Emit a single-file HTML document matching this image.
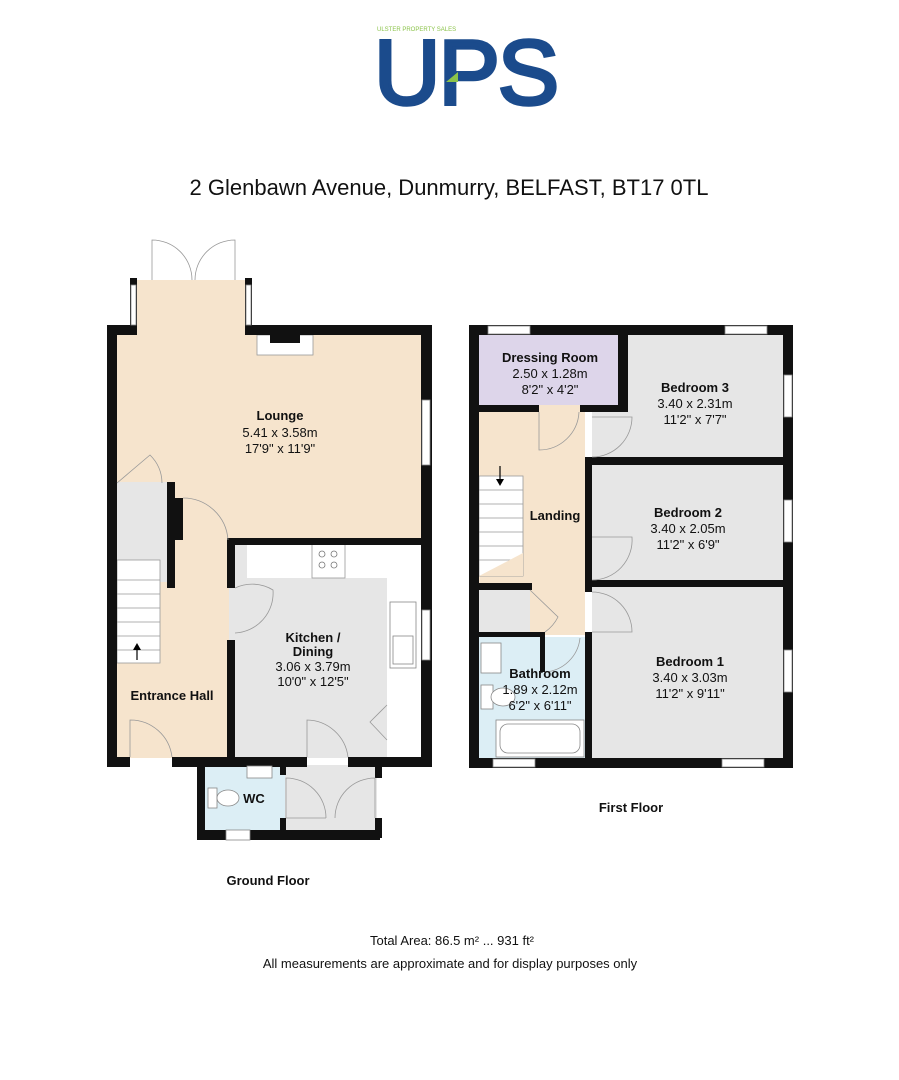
<!DOCTYPE html>
<html><head><meta charset="utf-8"><style>
html,body{margin:0;padding:0;background:#fff;}
svg{display:block;font-family:"Liberation Sans",Arial,sans-serif;}
.b{font-weight:bold;font-size:13px;}
.t{font-size:13px;}
</style></head><body>
<svg width="899" height="1080" viewBox="0 0 899 1080" xmlns="http://www.w3.org/2000/svg">
<!-- Logo -->
<text x="377" y="31" font-size="6" fill="#8bc34a">ULSTER PROPERTY SALES</text>
<text x="374" y="104" font-size="92" fill="#1b4b8c" stroke="#1b4b8c" stroke-width="3.5" letter-spacing="-2">UPS</text>
<polygon points="446,82 458,72 458,82" fill="#8bc34a"/>
<text x="449" y="195" font-size="22" text-anchor="middle" fill="#111">2 Glenbawn Avenue, Dunmurry, BELFAST, BT17 0TL</text>

<!-- GROUND FLOOR fills -->
<rect x="117" y="335" width="304" height="205" fill="#f6e4cd"/>
<rect x="137" y="280" width="108" height="60" fill="#f6e4cd"/>
<rect x="117" y="540" width="112" height="218" fill="#f6e4cd"/>
<rect x="116" y="482" width="51" height="100" fill="#e6e6e6"/>
<rect x="229" y="544" width="192" height="214" fill="#e6e6e6"/>
<rect x="247" y="544" width="174" height="34" fill="#fff"/>
<rect x="387" y="578" width="34" height="180" fill="#fff"/>
<rect x="205" y="765" width="80" height="65" fill="#dceef5"/>
<rect x="285" y="765" width="92" height="65" fill="#e6e6e6"/>
<!-- hob -->
<rect x="312" y="544" width="33" height="34" fill="#fff" stroke="#999" stroke-width="0.8"/>
<g fill="none" stroke="#777" stroke-width="0.8"><circle cx="322" cy="554" r="3"/><circle cx="334" cy="554" r="3"/><circle cx="322" cy="565" r="3"/><circle cx="334" cy="565" r="3"/></g>
<!-- sink -->
<rect x="390" y="602" width="26" height="66" fill="#fff" stroke="#888" stroke-width="0.8"/>
<rect x="393" y="636" width="20" height="28" fill="none" stroke="#888" stroke-width="0.8"/>
<!-- stairs -->
<g stroke="#999" stroke-width="0.8" fill="#fff">
<rect x="117" y="560" width="43" height="103"/>
<line x1="117" y1="580" x2="160" y2="580"/><line x1="117" y1="594" x2="160" y2="594"/><line x1="117" y1="608" x2="160" y2="608"/><line x1="117" y1="622" x2="160" y2="622"/><line x1="117" y1="636" x2="160" y2="636"/><line x1="117" y1="650" x2="160" y2="650"/>
</g>
<line x1="137" y1="660" x2="137" y2="648" stroke="#000" stroke-width="1.2"/><polygon points="133,650 141,650 137,643" fill="#000"/>
<!-- fireplace -->
<rect x="257" y="335" width="56" height="20" fill="#fff" stroke="#999" stroke-width="0.8"/>
<rect x="270" y="335" width="30" height="8" fill="#111"/>
<!-- walls ground -->
<g fill="#111">
<rect x="107" y="325" width="10" height="442"/>
<rect x="107" y="325" width="30" height="10"/>
<rect x="245" y="325" width="187" height="10"/>
<rect x="421" y="325" width="11" height="442"/>
<rect x="130" y="278" width="7" height="50"/>
<rect x="245" y="278" width="7" height="50"/>
<rect x="227" y="538" width="204" height="7"/>
<rect x="227" y="538" width="8" height="50"/>
<rect x="227" y="640" width="8" height="118"/>
<rect x="167" y="482" width="8" height="106"/>
<rect x="173" y="498" width="10" height="42"/>
<rect x="107" y="757" width="23" height="10"/>
<rect x="172" y="757" width="135" height="10"/>
<rect x="348" y="757" width="84" height="10"/>
<rect x="197" y="765" width="8" height="75"/>
<rect x="197" y="830" width="183" height="10"/>
<rect x="375" y="765" width="7" height="13"/>
<rect x="375" y="818" width="7" height="20"/>
<rect x="280" y="765" width="6" height="10"/>
<rect x="280" y="818" width="6" height="14"/>
</g>
<!-- windows ground -->
<g fill="#fff" stroke="#888" stroke-width="0.8">
<rect x="422" y="400" width="8" height="65"/>
<rect x="422" y="610" width="8" height="50"/>
<rect x="226" y="830" width="24" height="10"/>
<rect x="131" y="285" width="5" height="40"/>
<rect x="246" y="285" width="5" height="40"/>
</g>
<!-- doors ground -->
<g fill="none" stroke="#999" stroke-width="0.8">
<path d="M152 280 L152 240 A40 40 0 0 1 192 280"/>
<path d="M235 280 L235 240 A40 40 0 0 0 195 280"/>
<path d="M183 498 A45 45 0 0 1 228 540"/>
<path d="M117 483 L150 455 A40 40 0 0 1 162 483"/>
<path d="M235 588 A40 40 0 0 1 273 590 A40 40 0 0 1 235 633"/>
<path d="M130 757 L130 720 A42 42 0 0 1 172 757"/>
<path d="M307 757 L307 720 A42 42 0 0 1 348 757"/>
<path d="M286 818 L286 778 A40 40 0 0 1 326 818"/>
<path d="M335 818 A40 40 0 0 1 375 778 L375 818"/>
<path d="M387 705 L370 722 L387 740"/>
</g>
<line x1="286" y1="818" x2="326" y2="818" stroke="#999" stroke-width="0.8"/>
<!-- wc -->
<rect x="247" y="766" width="25" height="12" fill="#fff" stroke="#888" stroke-width="0.8"/>
<rect x="208" y="788" width="9" height="20" fill="#fff" stroke="#888" stroke-width="0.8"/>
<ellipse cx="228" cy="798" rx="11" ry="8" fill="#fff" stroke="#888" stroke-width="0.8"/>

<!-- FIRST FLOOR fills -->
<rect x="592" y="335" width="191" height="423" fill="#e6e6e6"/>
<rect x="479" y="335" width="139" height="70" fill="#ddd5ea"/>
<rect x="479" y="405" width="106" height="230" fill="#f6e4cd"/>
<rect x="479" y="590" width="51" height="42" fill="#e6e6e6"/>
<rect x="479" y="637" width="106" height="121" fill="#dceef5"/>
<g stroke="#999" stroke-width="0.8" fill="#fff">
<rect x="479" y="476" width="44" height="100"/>
<line x1="479" y1="490" x2="523" y2="490"/><line x1="479" y1="504" x2="523" y2="504"/><line x1="479" y1="518" x2="523" y2="518"/><line x1="479" y1="532" x2="523" y2="532"/><line x1="479" y1="546" x2="523" y2="546"/><line x1="479" y1="560" x2="523" y2="560"/>
</g>
<polygon points="479,576 523,553 523,576" fill="#f6e4cd"/>
<line x1="500" y1="466" x2="500" y2="482" stroke="#000" stroke-width="1.2"/><polygon points="496,479 504,479 500,486" fill="#000"/>
<!-- bathroom fixtures -->
<rect x="481" y="643" width="20" height="30" fill="#fff" stroke="#888" stroke-width="0.8"/>
<rect x="481" y="685" width="12" height="24" fill="#fff" stroke="#888" stroke-width="0.8"/>
<ellipse cx="503" cy="697" rx="12" ry="9" fill="#fff" stroke="#888" stroke-width="0.8"/>
<rect x="496" y="720" width="88" height="37" fill="#fff" stroke="#888" stroke-width="0.8"/>
<rect x="500" y="724" width="80" height="29" rx="8" fill="#fff" stroke="#888" stroke-width="0.8"/>
<!-- walls first -->
<g fill="#111">
<rect x="469" y="325" width="10" height="443"/>
<rect x="469" y="325" width="324" height="10"/>
<rect x="783" y="325" width="10" height="443"/>
<rect x="469" y="758" width="324" height="10"/>
<rect x="618" y="335" width="10" height="77"/>
<rect x="479" y="405" width="60" height="7"/>
<rect x="580" y="405" width="48" height="7"/>
<rect x="585" y="457" width="198" height="8"/>
<rect x="585" y="580" width="198" height="7"/>
<rect x="585" y="457" width="7" height="125"/>
<rect x="585" y="580" width="7" height="12"/>
<rect x="585" y="632" width="7" height="126"/>
<rect x="469" y="583" width="63" height="7"/>
<rect x="479" y="632" width="62" height="5"/>
<rect x="540" y="632" width="5" height="40"/>
</g>
<g fill="#fff" stroke="#888" stroke-width="0.8">
<rect x="488" y="326" width="42" height="8"/>
<rect x="725" y="326" width="42" height="8"/>
<rect x="784" y="375" width="8" height="42"/>
<rect x="784" y="500" width="8" height="42"/>
<rect x="784" y="650" width="8" height="42"/>
<rect x="493" y="759" width="42" height="8"/>
<rect x="722" y="759" width="42" height="8"/>
</g>
<g fill="none" stroke="#999" stroke-width="0.8">
<path d="M539 412 L539 450 A40 40 0 0 0 579 412"/>
<path d="M592 417 L632 417 A40 40 0 0 1 592 457"/>
<path d="M592 537 L632 537 A40 40 0 0 1 592 580"/>
<path d="M592 592 A40 40 0 0 1 632 632 L592 632"/>
<path d="M530 590 L558 617 A40 40 0 0 1 545 632"/>
<path d="M580 638 A38 38 0 0 1 545 672"/>
</g>

<!-- labels -->
<g text-anchor="middle" fill="#111">
<text class="b" x="280" y="420">Lounge</text>
<text class="t" x="280" y="437">5.41 x 3.58m</text>
<text class="t" x="280" y="453">17'9" x 11'9"</text>
<text class="b" x="313" y="642">Kitchen /</text>
<text class="b" x="313" y="656">Dining</text>
<text class="t" x="313" y="671">3.06 x 3.79m</text>
<text class="t" x="313" y="686">10'0" x 12'5"</text>
<text class="b" x="172" y="700">Entrance Hall</text>
<text class="b" x="254" y="803">WC</text>
<text class="b" x="268" y="885">Ground Floor</text>
<text class="b" x="550" y="362">Dressing Room</text>
<text class="t" x="550" y="378">2.50 x 1.28m</text>
<text class="t" x="550" y="394">8'2" x 4'2"</text>
<text class="b" x="695" y="392">Bedroom 3</text>
<text class="t" x="695" y="408">3.40 x 2.31m</text>
<text class="t" x="695" y="424">11'2" x 7'7"</text>
<text class="b" x="555" y="520">Landing</text>
<text class="b" x="688" y="517">Bedroom 2</text>
<text class="t" x="688" y="533">3.40 x 2.05m</text>
<text class="t" x="688" y="549">11'2" x 6'9"</text>
<text class="b" x="690" y="666">Bedroom 1</text>
<text class="t" x="690" y="682">3.40 x 3.03m</text>
<text class="t" x="690" y="698">11'2" x 9'11"</text>
<text class="b" x="540" y="678">Bathroom</text>
<text class="t" x="540" y="694">1.89 x 2.12m</text>
<text class="t" x="540" y="710">6'2" x 6'11"</text>
<text class="b" x="631" y="812">First Floor</text>
<text x="452" y="945" font-size="13">Total Area: 86.5 m² ... 931 ft²</text>
<text x="450" y="968" font-size="13">All measurements are approximate and for display purposes only</text>
</g>
</svg>
</body></html>
